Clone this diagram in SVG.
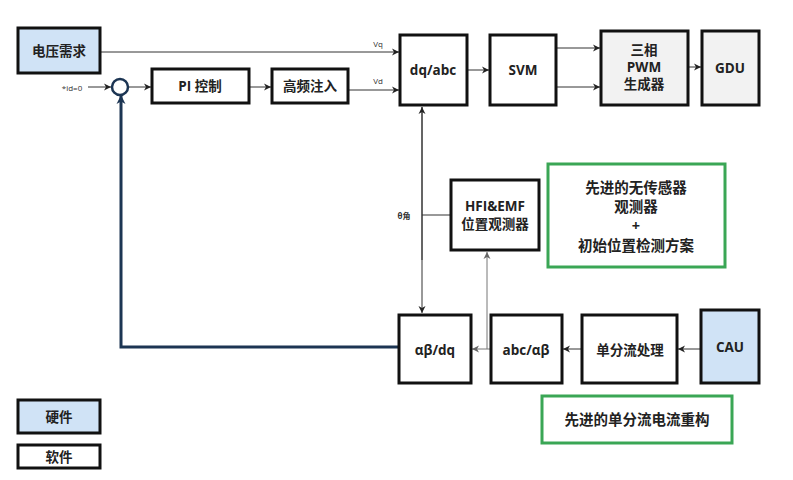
<svg xmlns="http://www.w3.org/2000/svg" width="793" height="480" viewBox="0 0 793 480">
<defs>
<marker id="ah" markerWidth="8" markerHeight="8" refX="7" refY="4" orient="auto" markerUnits="userSpaceOnUse"><path d="M0,0.5 L7,4 L0,7.5 L2,4 Z" fill="#222"/></marker>
<marker id="ahg" markerWidth="8" markerHeight="8" refX="7" refY="4" orient="auto" markerUnits="userSpaceOnUse"><path d="M0,0.5 L7,4 L0,7.5 L2,4 Z" fill="#666"/></marker>
<marker id="ahb" markerWidth="10" markerHeight="10" refX="8" refY="5" orient="auto" markerUnits="userSpaceOnUse"><path d="M0,0.5 L9,5 L0,9.5 L2.5,5 Z" fill="#1c3553"/></marker>
</defs>
<style>
.box{fill:#fff;stroke:#111;stroke-width:3}
.hw{fill:#d0e3f6;stroke:#111;stroke-width:3}
.gr{fill:#f2f2f2;stroke:#111;stroke-width:3}
.green{fill:#fff;stroke:#3aa655;stroke-width:3}
.t{font-family:"Open Sans","Noto Sans CJK SC",sans-serif;font-weight:bold;font-size:13.5px;fill:#222;text-anchor:middle;dominant-baseline:central}
.n{font-size:14.5px}
.s{font-family:"Open Sans","Noto Sans CJK SC",sans-serif;font-size:8px;fill:#333;text-anchor:middle;dominant-baseline:central}
.ln{fill:none;stroke:#333;stroke-width:1}
.lg{fill:none;stroke:#777;stroke-width:1}
</style>
<rect width="793" height="480" fill="#fff"/>
<g id="connectors">
<path class="ln" d="M100,52 H399" marker-end="url(#ah)"/>
<path class="ln" d="M348,90 H399" marker-end="url(#ah)"/>
<path class="ln" d="M88,87 H111" marker-end="url(#ah)"/>
<path class="ln" d="M128,87 H151" marker-end="url(#ah)"/>
<path class="ln" d="M249,87 H271" marker-end="url(#ah)"/>
<path class="ln" d="M467,70 H489" marker-end="url(#ah)"/>
<path class="ln" d="M556,48 H600" marker-end="url(#ah)"/>
<path class="ln" d="M556,87 H600" marker-end="url(#ah)"/>
<path class="ln" d="M688,67 H701" marker-end="url(#ah)"/>
<path class="ln" d="M422,107 V313" marker-end="url(#ah)"/>
<path class="ln" d="M422,260 V107" marker-end="url(#ah)"/>
<path class="ln" d="M422,215 H451"/>
<path class="ln" d="M701,349 H678" marker-end="url(#ah)"/>
<path class="ln" d="M582,349 H563" marker-end="url(#ah)"/>
<path class="lg" d="M491,349 H472" marker-end="url(#ahg)"/>
<path class="lg" d="M487,349 V252" marker-end="url(#ahg)"/>
<path d="M399,347 H121 V96" fill="none" stroke="#1c3553" stroke-width="3" marker-end="url(#ahb)"/>
</g>
<g id="n_voltage"><rect class="hw" x="18" y="28" width="82" height="45"/><text class="t" x="59" y="51" font-size="15">电压需求</text></g>
<text class="s" x="72" y="87">*id=0</text>
<text class="s" x="378" y="43">Vq</text>
<text class="s" x="378" y="80">Vd</text>
<g id="n_sum"><circle cx="120" cy="87" r="8" fill="#fff" stroke="#1c3553" stroke-width="2.5"/></g>
<g id="n_pi"><rect class="box" x="152" y="69" width="97" height="34"/><text class="t" x="200" y="86">PI 控制</text></g>
<g id="n_hfi_inj"><rect class="box" x="272" y="69" width="76" height="34"/><text class="t" x="310" y="86">高频注入</text></g>
<g id="n_dqabc"><rect class="box" x="400" y="35" width="67" height="70"/><text class="t" x="433" y="70">dq/abc</text></g>
<g id="n_svm"><rect class="box" x="490" y="35" width="66" height="70"/><text class="t" x="523" y="70">SVM</text></g>
<g id="n_pwm"><rect class="gr" x="601" y="31" width="87" height="74"/><text class="t" x="644" y="50">三相</text><text class="t" x="644" y="67">PWM</text><text class="t" x="644" y="84">生成器</text></g>
<g id="n_gdu"><rect class="gr" x="702" y="31" width="57" height="74"/><text class="t" x="730" y="68">GDU</text></g>
<text class="s" x="404" y="215" font-weight="bold" font-size="10">θ角</text>
<g id="n_observer"><rect class="box" x="451" y="180" width="88" height="70"/><text class="t" x="495" y="206">HFI&amp;EMF</text><text class="t" x="495" y="224">位置观测器</text></g>
<g id="n_note1"><rect class="green" x="548" y="164" width="177" height="103"/><text class="t n" x="636" y="187">先进的无传感器</text><text class="t n" x="636" y="206">观测器</text><text class="t n" x="636" y="225">+</text><text class="t n" x="636" y="245">初始位置检测方案</text></g>
<g id="n_abdq"><rect class="box" x="399" y="315" width="72" height="68"/><text class="t" x="435" y="350">αβ/dq</text></g>
<g id="n_abcab"><rect class="box" x="491" y="315" width="71" height="68"/><text class="t" x="526" y="350">abc/αβ</text></g>
<g id="n_single"><rect class="box" x="582" y="315" width="95" height="68"/><text class="t" x="630" y="350">单分流处理</text></g>
<g id="n_cau"><rect class="hw" x="701" y="310" width="58" height="73"/><text class="t" x="730" y="347">CAU</text></g>
<g id="n_note2"><rect class="green" x="542" y="396" width="190" height="47"/><text class="t n" x="637" y="419">先进的单分流电流重构</text></g>
<g id="n_legend_hw"><rect class="hw" x="18" y="400" width="82" height="33"/><text class="t" x="59" y="417">硬件</text></g>
<g id="n_legend_sw"><rect class="box" x="18" y="445" width="82" height="23"/><text class="t" x="59" y="457">软件</text></g>
</svg>
